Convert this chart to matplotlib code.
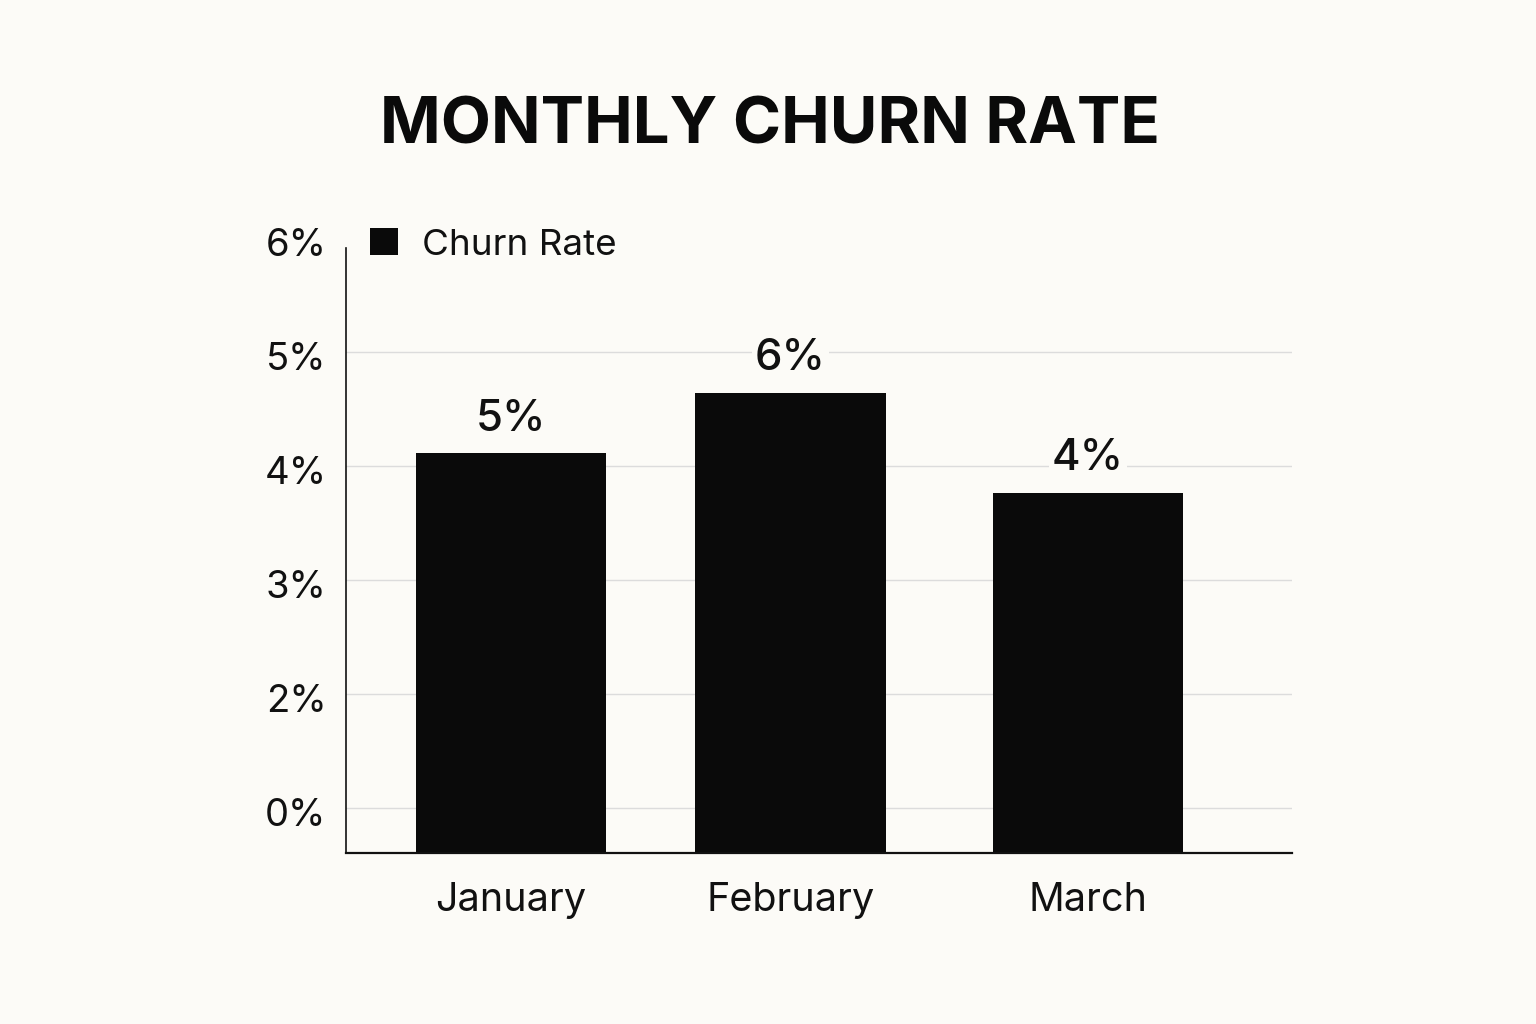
import matplotlib
matplotlib.use("Agg")
import matplotlib.pyplot as plt
from matplotlib.patches import Patch
from matplotlib.transforms import ScaledTranslation

# ---- data ----
months = ["January", "February", "March"]
bar_heights = [4.11, 4.64, 3.76]          # heights as read against the axis scale
bar_labels = ["5%", "6%", "4%"]           # value labels printed above bars
tick_values = [1, 2, 3, 4, 5, 6]
tick_labels = ["0%", "2%", "3%", "4%", "5%", "6%"]
series_name = "Churn Rate"
title = "MONTHLY CHURN RATE"

# ---- layout / style ----
x_pos = [0.0, 1.0, 2.064]
BG = "#fcfbf7"
BAR = "#0a0a0a"
FONT = "Inter"

plt.rcParams["font.family"] = [FONT, "DejaVu Sans"]

fig = plt.figure(figsize=(15.36, 10.24), dpi=100, facecolor=BG)
ax = fig.add_axes([346/1536, 1-853/1024, (1292-346)/1536, (853-238)/1024])
ax.set_facecolor(BG)

bars = ax.bar(x_pos, bar_heights, width=0.68, color=BAR, zorder=2)

ax.set_ylim(0.605, 6.0)
ax.set_xlim(-0.59, 2.794)
ax.set_yticks(tick_values)
ax.set_yticklabels(tick_labels)
ax.set_xticks(x_pos)
ax.set_xticklabels(months)

ax.grid(axis="y", color="#dcdcdc", linewidth=1.0, zorder=0)
ax.set_axisbelow(True)
ax.yaxis.get_gridlines()[-1].set_visible(False)

for s in ["top", "right"]:
    ax.spines[s].set_visible(False)
ax.spines["left"].set_bounds(0.605, 5.91)
ax.spines["left"].set_linewidth(1.2)
ax.spines["bottom"].set_linewidth(1.6)
ax.spines["left"].set_color("#111111")
ax.spines["bottom"].set_color("#111111")

ax.tick_params(axis="y", length=0, pad=14, labelsize=27.5, labelcolor="#111111")
ax.tick_params(axis="x", length=0, pad=21, labelsize=28.5, labelcolor="#111111")

shift = ScaledTranslation(0, -4/100, fig.dpi_scale_trans)
for lab in ax.get_yticklabels():
    lab.set_transform(lab.get_transform() + shift)

for xp, h, lab in zip(x_pos, bar_heights, bar_labels):
    ax.annotate(lab, xy=(xp, h), xytext=(0, 16.5), textcoords="offset points",
                ha="center", va="baseline", fontsize=31.5, fontweight="medium",
                color="#111111", zorder=3,
                bbox=dict(facecolor=BG, edgecolor="none", pad=2))

leg = fig.legend(handles=[Patch(facecolor=BAR, edgecolor="none", label=series_name)],
                 loc="center left", bbox_to_anchor=(370/1536, 1-245/1024),
                 frameon=False, fontsize=26.5, handlelength=0.75, handleheight=0.75,
                 handletextpad=0.65, borderpad=0, borderaxespad=0)
for t in leg.get_texts():
    t.set_color("#111111")

fig.text(770/1536, 1-143/1024, title, ha="center", va="baseline",
         fontsize=47, fontweight="bold", color="#0a0a0a")

fig.savefig("out.png", dpi=100, facecolor=BG)
